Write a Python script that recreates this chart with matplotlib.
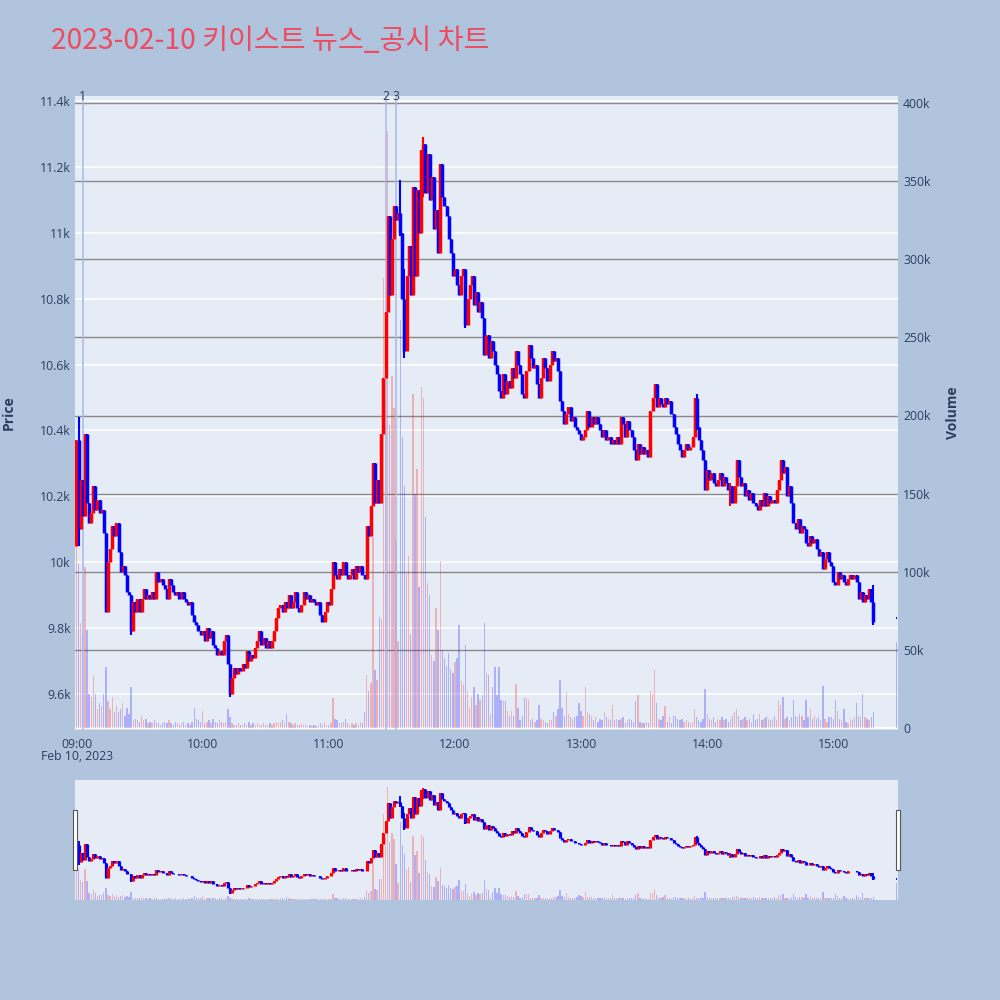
import matplotlib
matplotlib.use("Agg")
import matplotlib.pyplot as plt
import matplotlib.transforms as mtransforms
from matplotlib.patches import Rectangle
import numpy as np

plt.rcParams['font.family'] = ['Open Sans', 'DejaVu Sans']

title = "2023-02-10 키이스트 뉴스_공시 차트"
date_label = "Feb 10, 2023"

# 1-minute closes from 09:00 to 15:19 (KRW)
first_open = 10050
close = [
    10370, 10100, 10250, 10140, 10390, 10180, 10120, 10150, 10230, 10160,
    10190, 10150, 10160, 10090, 9850, 10000, 10040, 10110, 10080, 10120,
    10030, 9970, 9990, 9960, 9910, 9900, 9790, 9880, 9850, 9890,
    9850, 9890, 9920, 9890, 9900, 9890, 9910, 9890, 9970, 9940,
    9950, 9930, 9920, 9890, 9950, 9930, 9910, 9900, 9910, 9890,
    9910, 9890, 9880, 9870, 9880, 9840, 9820, 9810, 9790, 9780,
    9790, 9760, 9800, 9770, 9790, 9750, 9740, 9720, 9730, 9720,
    9760, 9780, 9690, 9600, 9650, 9680, 9660, 9680, 9670, 9690,
    9680, 9730, 9700, 9720, 9710, 9740, 9760, 9790, 9750, 9770,
    9740, 9760, 9740, 9760, 9790, 9830, 9860, 9870, 9850, 9880,
    9860, 9900, 9860, 9880, 9910, 9860, 9850, 9870, 9910, 9890,
    9900, 9880, 9890, 9880, 9870, 9880, 9840, 9820, 9850, 9880,
    9870, 9920, 10000, 9960, 9950, 9980, 9960, 10000, 9960, 9950,
    9960, 9980, 9950, 9990, 9970, 9990, 9960, 9950, 10110, 10080,
    10170, 10300, 10180, 10250, 10180, 10390, 10560, 10760, 11050, 10810,
    10980, 11080, 11040, 11060, 11000, 10800, 10640, 10870, 10960, 10810,
    11140, 10870, 11130, 11000, 11250, 11270, 11120, 11240, 11100, 11170,
    11010, 11070, 10940, 11210, 11110, 11080, 11050, 10980, 10940, 10870,
    10890, 10840, 10810, 10870, 10890, 10720, 10800, 10840, 10870, 10780,
    10820, 10760, 10790, 10740, 10630, 10690, 10620, 10670, 10640, 10600,
    10570, 10520, 10500, 10570, 10510, 10550, 10530, 10590, 10560, 10640,
    10600, 10570, 10510, 10500, 10580, 10660, 10620, 10590, 10600, 10540,
    10500, 10560, 10620, 10590, 10550, 10600, 10640, 10610, 10620, 10580,
    10490, 10460, 10420, 10450, 10470, 10430, 10440, 10410, 10400, 10390,
    10370, 10380, 10400, 10460, 10410, 10440, 10420, 10440, 10420, 10400,
    10380, 10400, 10370, 10380, 10360, 10370, 10360, 10380, 10360, 10440,
    10420, 10380, 10430, 10400, 10380, 10340, 10310, 10360, 10330, 10350,
    10330, 10340, 10320, 10460, 10500, 10540, 10470, 10500, 10480, 10470,
    10500, 10480, 10490, 10450, 10410, 10390, 10360, 10340, 10320, 10340,
    10360, 10340, 10350, 10380, 10500, 10410, 10370, 10340, 10310, 10220,
    10280, 10250, 10270, 10240, 10230, 10250, 10270, 10230, 10260, 10240,
    10220, 10230, 10180, 10230, 10310, 10260, 10230, 10240, 10200, 10220,
    10190, 10210, 10180, 10170, 10160, 10190, 10170, 10210, 10170, 10200,
    10180, 10190, 10180, 10220, 10250, 10310, 10270, 10290, 10200, 10230,
    10180, 10120, 10100, 10130, 10090, 10110, 10100, 10060, 10050, 10080,
    10060, 10070, 10040, 10020, 10030, 9980, 10010, 10030, 10000, 9990,
    9940, 9930, 9970, 9950, 9960, 9940, 9930, 9950, 9960, 9950,
    9960, 9940, 9890, 9910, 9880, 9900, 9890, 9920, 9880, 9820,
]

# volume per minute, thousands of shares
volume_k = [
    120, 105, 67, 60, 103, 63, 22, 20, 33, 22,
    12, 16, 14, 22, 39, 17, 12, 20, 10, 14,
    10, 12, 16, 8, 13, 9, 26, 5, 6, 5,
    4, 8, 5, 6, 3, 4, 3, 5, 4, 3,
    2, 3, 4, 3, 5, 3, 2, 4, 3, 2,
    3, 4, 2, 3, 2, 4, 13, 6, 5, 4,
    11, 3, 4, 5, 3, 6, 4, 3, 5, 4,
    3, 4, 12, 7, 3, 2, 2, 3, 2, 2,
    3, 2, 4, 2, 3, 2, 3, 2, 2, 3,
    2, 2, 3, 2, 3, 4, 3, 4, 5, 3,
    9, 4, 3, 2, 3, 2, 2, 3, 2, 2,
    1, 2, 1, 2, 1, 2, 3, 2, 4, 2,
    2, 3, 19, 6, 5, 3, 3, 4, 6, 3,
    2, 3, 2, 3, 2, 4, 3, 10, 34, 24,
    29, 122, 37, 31, 71, 70, 288, 210, 382, 194,
    225, 205, 120, 56, 261, 186, 155, 99, 110, 60,
    214, 150, 166, 90, 218, 211, 135, 93, 85, 47,
    43, 77, 63, 107, 50, 45, 40, 48, 38, 35,
    42, 45, 66, 30, 28, 53, 24, 13, 20, 26,
    15, 22, 18, 21, 67, 35, 34, 9, 26, 39,
    21, 39, 18, 17, 17, 11, 8, 11, 8, 28,
    13, 5, 8, 19, 19, 18, 5, 6, 4, 5,
    15, 6, 5, 4, 3, 5, 5, 10, 8, 12,
    31, 13, 8, 23, 9, 7, 6, 7, 8, 16,
    11, 8, 26, 10, 9, 8, 5, 7, 4, 6,
    5, 10, 7, 6, 5, 15, 5, 6, 5, 6,
    7, 3, 5, 6, 5, 4, 17, 21, 4, 3,
    3, 4, 3, 24, 22, 37, 16, 6, 5, 8,
    14, 4, 7, 3, 8, 8, 6, 5, 6, 4,
    5, 4, 3, 4, 12, 7, 5, 4, 6, 25,
    9, 6, 5, 7, 4, 6, 5, 7, 5, 6,
    4, 6, 8, 10, 12, 8, 5, 6, 7, 5,
    6, 4, 9, 5, 6, 9, 5, 6, 7, 6,
    5, 6, 8, 5, 17, 15, 20, 6, 7, 5,
    7, 18, 8, 7, 9, 8, 5, 18, 7, 12,
    6, 8, 6, 7, 5, 27, 6, 4, 7, 7,
    6, 18, 11, 6, 5, 12, 4, 3, 6, 5,
    7, 16, 8, 7, 22, 7, 6, 5, 7, 10,
]

# (minute, high, low) for candles with visible wicks
wicks = [(1, 10440, 10050), (26, 9890, 9780), (73, 9690, 9590),
         (154, 11160, 10990), (156, 10890, 10620), (165, 11290, 11110),
         (185, 10890, 10710), (295, 10510, 10400), (311, 10240, 10170),
         (379, 9930, 9810)]

# closing auction 15:30
auction_minute = 390
auction_price = 9830
auction_volume_k = 55

event_times = ["09:03", "11:27", "11:32"]
event_labels = ["1", "2", "3"]

price_ticks = [9600, 9800, 10000, 10200, 10400, 10600, 10800, 11000, 11200, 11400]
volume_ticks = [0, 50000, 100000, 150000, 200000, 250000, 300000, 350000, 400000]
time_ticks = ["09:00", "10:00", "11:00", "12:00", "13:00", "14:00", "15:00"]


def to_min(s):
    hh, mm = s.split(":")
    return (int(hh) - 9) * 60 + int(mm)


def k_fmt(v):
    if v == 0:
        return "0"
    s = f"{v / 1000:.1f}".rstrip("0").rstrip(".")
    return s + "k"


c = np.array(close + [auction_price], dtype=float)
o = np.array([first_open] + close[:-1] + [auction_price], dtype=float)
t = np.r_[np.arange(len(close)), auction_minute].astype(float)
h = np.maximum(o, c)
l = np.minimum(o, c)
for m, hi, lo in wicks:
    h[m] = max(h[m], hi)
    l[m] = min(l[m], lo)
vol = np.array(volume_k + [auction_volume_k], dtype=float) * 1000
up = c > o

RED = "#FF0000"
BLUE = "#0000FF"
cols = np.where(up, RED, BLUE)
vcols = [(1, 0, 0, 0.25) if u else (0, 0, 1, 0.25) for u in up]

BG = "#B0C4DE"
PLOT_BG = "#E5ECF6"
TXT = "#2a3f5f"
XLIM = (-0.7, 390.5)
PLIM = (9491, 11415)
VLIM = (-1280, 404480)


def draw_candles(ax, body_lw, wick_lw):
    # draw candle by candle so later minutes sit on top, like the original
    for i in range(len(t)):
        if o[i] == c[i]:
            ax.plot([t[i] - 0.4, t[i] + 0.4], [c[i], c[i]], color=cols[i],
                    lw=body_lw * 0.6, solid_capstyle="butt", zorder=3)
            continue
        ax.plot([t[i], t[i]], [l[i], h[i]], color=cols[i], lw=wick_lw,
                solid_capstyle="butt", zorder=3)
        ax.plot([t[i], t[i]], [min(o[i], c[i]), max(o[i], c[i])], color=cols[i],
                lw=body_lw, solid_capstyle="butt", zorder=3)


fig = plt.figure(figsize=(10, 10), dpi=100, facecolor=BG)
rect = [0.075, 0.270, 0.8225, 0.634]

# background + price grid
ax_bg = fig.add_axes(rect)
ax_bg.set_facecolor(PLOT_BG)
ax_bg.set_xlim(*XLIM)
ax_bg.set_ylim(*PLIM)
ax_bg.set_yticks(price_ticks)
ax_bg.set_yticklabels([k_fmt(v) for v in price_ticks])
ax_bg.set_xticks([to_min(s) for s in time_ticks])
ax_bg.set_xticklabels(time_ticks)
ax_bg.grid(axis="y", color="white", lw=1.1)
ax_bg.tick_params(axis="y", length=0, pad=3, labelsize=8.8, labelcolor=TXT)
ax_bg.tick_params(axis="x", length=0, pad=6, labelsize=8.8, labelcolor=TXT)
for s in ax_bg.spines.values():
    s.set_visible(False)

# volume layer
ax_v = fig.add_axes(rect)
ax_v.patch.set_visible(False)
ax_v.set_xlim(*XLIM)
ax_v.set_ylim(*VLIM)
for v in volume_ticks:
    ax_v.axhline(v, color="#8a8a8a", lw=1.0, zorder=1)
ax_v.axhline(0, color="white", lw=1.6, zorder=1.5)
ax_v.bar(t, vol, width=0.65, color=vcols, zorder=2)
ax_v.yaxis.tick_right()
ax_v.set_yticks(volume_ticks)
ax_v.set_yticklabels([k_fmt(v) for v in volume_ticks])
ax_v.tick_params(axis="y", length=0, pad=4, labelsize=8.8, labelcolor=TXT)
ax_v.tick_params(axis="x", bottom=False, labelbottom=False)
for s in ax_v.spines.values():
    s.set_visible(False)

# candles layer
ax_c = fig.add_axes(rect)
ax_c.patch.set_visible(False)
ax_c.set_xlim(*XLIM)
ax_c.set_ylim(*PLIM)
ax_c.set_xticks([])
ax_c.set_yticks([])
for s in ax_c.spines.values():
    s.set_visible(False)
tr = mtransforms.blended_transform_factory(ax_c.transData, ax_c.transAxes)
for et, lab in zip(event_times, event_labels):
    m = to_min(et)
    ax_c.axvline(m, color="#A7B7EE", lw=1.1, zorder=2)
    ax_c.text(m, 1.0, lab, transform=tr, ha="center", va="center",
              fontsize=8.8, color=TXT, zorder=6)
draw_candles(ax_c, body_lw=2.5, wick_lw=1.5)

fig.text(0.077, 1 - 0.757, date_label, ha="center", va="center",
         fontsize=8.8, color=TXT)
fig.text(0.009, 0.587, "Price", rotation=90, ha="center", va="center",
         fontsize=10, fontweight="bold", color=TXT)
fig.text(0.953, 0.587, "Volume", rotation=90, ha="center", va="center",
         fontsize=10, fontweight="bold", color=TXT)
fig.text(0.051, 0.959, title, ha="left", va="center", fontsize=20.3,
         color="#EE4B61", family=["Noto Sans CJK KR", "DejaVu Sans"])

# range slider
srect = [0.075, 0.100, 0.8225, 0.120]
ax_sv = fig.add_axes(srect)
ax_sv.set_facecolor(PLOT_BG)
ax_sv.set_xlim(*XLIM)
ax_sv.set_ylim(*VLIM)
ax_sv.bar(t, vol, width=0.65, color=vcols)
ax_sv.set_xticks([])
ax_sv.set_yticks([])
for s in ax_sv.spines.values():
    s.set_visible(False)
ax_s = fig.add_axes(srect)
ax_s.patch.set_visible(False)
ax_s.set_xlim(*XLIM)
ax_s.set_ylim(*PLIM)
ax_s.set_xticks([])
ax_s.set_yticks([])
for s in ax_s.spines.values():
    s.set_visible(False)
draw_candles(ax_s, body_lw=2.3, wick_lw=1.4)

for hx in (0.0725, 0.8955):
    fig.patches.append(Rectangle((hx, 0.130), 0.004, 0.060, transform=fig.transFigure,
                                 facecolor="white", edgecolor="#555555", lw=0.8))

fig.savefig("out.png", dpi=100, facecolor=BG)
